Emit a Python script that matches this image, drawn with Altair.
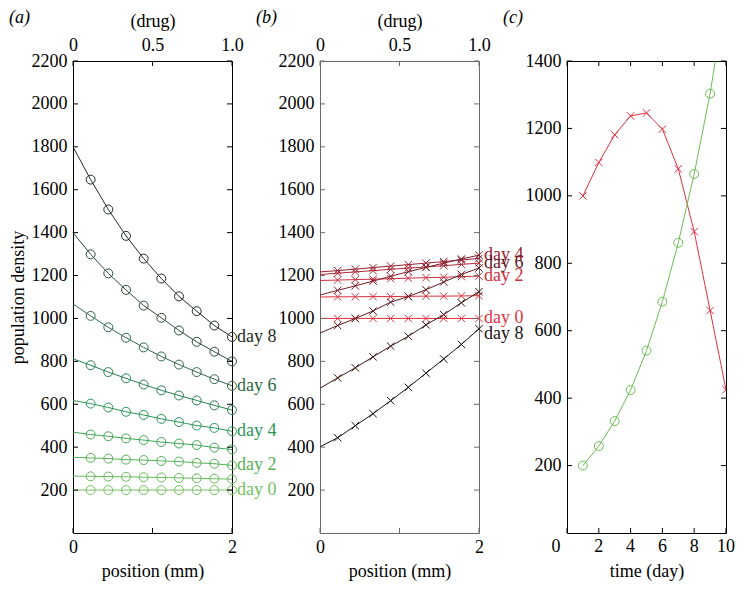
import altair as alt
import pandas as pd

FONT = "Liberation Serif"
FS = 18
W = 159
H = 472

# ---------------- data ----------------
positions = [0.0, 0.222, 0.444, 0.667, 0.889, 1.111, 1.333, 1.556, 1.778, 2.0]
pos_ticks = [0, 1, 2]
drug_ticks = [0, 0.5, 1.0]
y_ticks_ab = [200, 400, 600, 800, 1000, 1200, 1400, 1600, 1800, 2000, 2200]

# panel (a): no drug, circles
a_day0 = [200, 200, 200, 200, 200, 200, 200, 200, 200, 200]
a_day1 = [265, 264, 263, 262, 260, 259, 257, 255, 253, 251]
a_day2 = [353, 350, 347, 342, 340, 336, 333, 327, 323, 315]
a_day3 = [470, 459, 451, 441, 433, 424, 417, 410, 398, 389]
a_day4 = [618, 603, 585, 565, 550, 532, 517, 501, 490, 474]
a_day5 = [812, 782, 750, 721, 692, 665, 641, 618, 595, 573]
a_day6 = [1068, 1012, 959, 910, 865, 823, 785, 750, 717, 686]
a_day7 = [1400, 1299, 1210, 1133, 1060, 1003, 944, 891, 845, 800]
a_day8 = [1800, 1647, 1508, 1385, 1279, 1186, 1103, 1034, 967, 914]
a_colors = ["#74c25e", "#66bb5a", "#56b256", "#3fa656", "#2a9656",
            "#2a8050", "#2f6a48", "#2e4a38", "#222a24"]

# panel (b): with drug, crosses
b_day0 = [1000, 1000, 1000, 1000, 1000, 1000, 1000, 1000, 1000, 1000]
b_day1 = [1100, 1101, 1101, 1102, 1102, 1103, 1104, 1104, 1105, 1106]
b_day2 = [1177, 1179, 1181, 1183, 1185, 1188, 1190, 1192, 1195, 1197]
b_day3 = [1205, 1211, 1217, 1223, 1229, 1235, 1240, 1246, 1252, 1258]
b_day4 = [1217, 1223, 1230, 1237, 1244, 1251, 1258, 1265, 1272, 1280]
b_day5 = [1109, 1131, 1152, 1174, 1197, 1218, 1238, 1258, 1277, 1295]
b_day6 = [932, 967, 1000, 1035, 1076, 1102, 1134, 1170, 1205, 1235]
b_day7 = [675, 723, 770, 821, 871, 917, 970, 1018, 1073, 1125]
b_day8 = [402, 444, 500, 556, 617, 679, 745, 811, 879, 952]
b_colors = ["#e4333f", "#dc3240", "#cc3040", "#b02a38", "#962232",
            "#7c1c28", "#5c1a1e", "#3c1414", "#1c1010"]

label_days = [0, 2, 4, 6, 8]
b_label_values = [1000, 1197, 1295, 1258, 927]

# panel (c): time course
c_days = [1, 2, 3, 4, 5, 6, 7, 8, 9, 10]
c_red = [1000, 1099, 1181, 1237, 1246, 1198, 1080, 894, 660, 425]
c_green = [200, 258, 332, 424, 541, 686, 861, 1065, 1303, 1600]
c_x_ticks = [0, 2, 4, 6, 8, 10]
c_y_ticks = [200, 400, 600, 800, 1000, 1200, 1400]

X_PATH = "M-1,-1L1,1M1,-1L-1,1"

AX = dict(labelFont=FONT, labelFontSize=FS, titleFont=FONT, titleFontSize=FS,
          titleFontWeight="normal", labelColor="black", titleColor="black",
          ticks=False, domain=False, grid=False)


def long_df(series, colors):
    rows = []
    for d, vals in enumerate(series):
        for k, v in enumerate(vals):
            rows.append({"day": d, "k": k, "x": positions[k], "v": v, "col": colors[d]})
    return pd.DataFrame(rows)


def tick_layers(xticks, yticks, color):
    yl = alt.Chart(pd.DataFrame({"v": yticks})).mark_rule(color=color, strokeWidth=1).encode(
        y="v:Q", x=alt.value(0), x2=alt.value(5))
    yr = alt.Chart(pd.DataFrame({"v": yticks})).mark_rule(color=color, strokeWidth=1).encode(
        y="v:Q", x=alt.value(W - 5), x2=alt.value(W))
    xb = alt.Chart(pd.DataFrame({"x": xticks})).mark_rule(color=color, strokeWidth=1).encode(
        x="x:Q", y=alt.value(H), y2=alt.value(H - 5))
    xt = alt.Chart(pd.DataFrame({"x": xticks})).mark_rule(color=color, strokeWidth=1).encode(
        x="x:Q", y=alt.value(0), y2=alt.value(5))
    return [yl, yr, xb, xt]


def tag_layer(tag):
    return alt.Chart(pd.DataFrame({"t": [tag]})).mark_text(
        align="left", baseline="middle", font=FONT, fontSize=FS, fontStyle="italic",
        color="black").encode(x=alt.value(-64), y=alt.value(-43), text="t:N")


def curve_panel(df, lab_df, shape, size, frame_color, ytitle, tag):
    x_enc = alt.X("x:Q", scale=alt.Scale(domain=[0, 2], nice=False, zero=False),
                  axis=alt.Axis(values=pos_ticks, format="d", title="position (mm)",
                                labelFlush=False, labelOverlap=False, labelPadding=5,
                                titlePadding=6, **AX))
    y_enc = alt.Y("v:Q", scale=alt.Scale(domain=[0, 2200], nice=False, zero=False),
                  axis=alt.Axis(values=y_ticks_ab, format="d", title=ytitle,
                                labelPadding=6, titlePadding=4, **AX))
    lines = alt.Chart(df).mark_line(strokeWidth=1).encode(
        x=x_enc, y=y_enc, detail="day:N", color=alt.Color("col:N", scale=None))
    pts = alt.Chart(df).transform_filter("datum.k > 0").mark_point(
        shape=shape, filled=False, size=size, strokeWidth=1, opacity=1).encode(
        x="x:Q", y="v:Q", color=alt.Color("col:N", scale=None))
    labels = alt.Chart(lab_df).mark_text(
        align="left", baseline="middle", dx=5, font=FONT, fontSize=FS).encode(
        x="x:Q", y="v:Q", text="lab:N", color=alt.Color("col:N", scale=None))
    inner = alt.layer(lines, pts, *tick_layers(pos_ticks, y_ticks_ab, frame_color),
                      labels, tag_layer(tag))
    top = alt.Chart(pd.DataFrame({"drug": drug_ticks})).mark_rule(opacity=0).encode(
        x=alt.X("drug:Q", scale=alt.Scale(domain=[0, 1], nice=False, zero=False),
                axis=alt.Axis(orient="top", values=drug_ticks, title="(drug)",
                              labelExpr="datum.value == 0 ? '0' : format(datum.value, '.1f')",
                              labelFlush=False, labelOverlap=False, labelPadding=7,
                              titlePadding=6, **AX)),
        y=alt.value(0), y2=alt.value(5))
    return alt.layer(inner, top).resolve_scale(x="independent").properties(
        width=W, height=H, view=alt.ViewBackground(stroke=frame_color, strokeWidth=1))


# ---- panel a ----
a_series = [a_day0, a_day1, a_day2, a_day3, a_day4, a_day5, a_day6, a_day7, a_day8]
df_a = long_df(a_series, a_colors)
lab_a = pd.DataFrame({"x": [positions[-1]] * len(label_days),
                      "v": [a_series[d][-1] for d in label_days],
                      "lab": ["day %d" % d for d in label_days],
                      "col": [a_colors[d] for d in label_days]})
panel_a = curve_panel(df_a, lab_a, "circle", 80, "black", "population density", "(a)")

# ---- panel b ----
b_series = [b_day0, b_day1, b_day2, b_day3, b_day4, b_day5, b_day6, b_day7, b_day8]
df_b = long_df(b_series, b_colors)
lab_b = pd.DataFrame({"x": [positions[-1]] * len(label_days),
                      "v": b_label_values,
                      "lab": ["day %d" % d for d in label_days],
                      "col": [b_colors[d] for d in label_days]})
panel_b = curve_panel(df_b, lab_b, X_PATH, 55, "#6a6a6a", None, "(b)")

# ---- panel c ----
red_df = pd.DataFrame({"x": c_days, "v": c_red})
green_df = pd.DataFrame({"x": c_days, "v": c_green})
cx = alt.X("x:Q", scale=alt.Scale(domain=[0, 10], nice=False, zero=False),
           axis=alt.Axis(values=c_x_ticks, title="time (day)", labels=False,
                         titlePadding=29, **AX))
cy = alt.Y("v:Q", scale=alt.Scale(domain=[0, 1400], nice=False, zero=False),
           axis=alt.Axis(values=c_y_ticks, format="d", title=None, labelPadding=6, **AX))
c_red_line = alt.Chart(red_df).mark_line(color="#e03040", strokeWidth=1, clip=True).encode(x=cx, y=cy)
c_red_pts = alt.Chart(red_df).mark_point(shape=X_PATH, size=55, filled=False, color="#e03040",
                                         strokeWidth=1, opacity=1, clip=True).encode(x="x:Q", y="v:Q")
c_green_line = alt.Chart(green_df).mark_line(color="#6abe55", strokeWidth=1, clip=True).encode(x="x:Q", y="v:Q")
c_green_pts = alt.Chart(green_df).mark_point(shape="circle", size=80, filled=False, color="#6abe55",
                                             strokeWidth=1, opacity=1, clip=True).encode(x="x:Q", y="v:Q")
xlab_df = pd.DataFrame({"x": c_x_ticks, "lab": [str(t) for t in c_x_ticks]})
c_xlab = alt.Chart(xlab_df).transform_filter("datum.x > 0").mark_text(
    align="center", baseline="top", font=FONT, fontSize=FS, color="black").encode(
    x="x:Q", y=alt.value(H + 5), text="lab:N")
c_xlab0 = alt.Chart(xlab_df).transform_filter("datum.x == 0").mark_text(
    align="center", baseline="top", font=FONT, fontSize=FS, color="black", dx=-11).encode(
    x="x:Q", y=alt.value(H + 5), text="lab:N")
panel_c = alt.layer(c_red_line, c_red_pts, c_green_line, c_green_pts,
                    *tick_layers(c_x_ticks, c_y_ticks, "black"), c_xlab, c_xlab0,
                    tag_layer("(c)")).properties(
    width=W, height=H, view=alt.ViewBackground(stroke="black", strokeWidth=1))

chart = alt.hconcat(panel_a, panel_b, panel_c, spacing=88, bounds="flush").properties(
    padding={"left": 0, "top": 0, "right": 0, "bottom": 0}, background="white"
).configure(font=FONT).configure_axis(
    labelFont=FONT, labelFontSize=FS, titleFont=FONT, titleFontSize=FS,
    titleFontWeight="normal", labelColor="black", titleColor="black"
).configure_view(stroke="black")

chart.save("out.html", embed_options={"renderer": "svg", "actions": False})
